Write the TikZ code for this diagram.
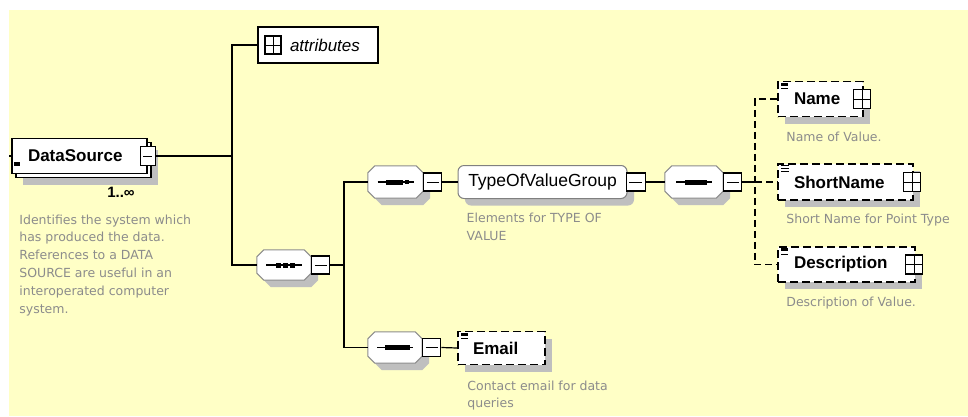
\documentclass[tikz,border=0pt]{standalone}
\usepackage{fontspec}
\setmainfont{Liberation Sans}
\newfontfamily\notefont{DejaVu Sans}
\usetikzlibrary{positioning,shadows}
\definecolor{paper}{RGB}{255,255,198}
\definecolor{notegray}{RGB}{140,140,140}
\tikzset{
  wire/.style={line width=1.2pt},
  optwire/.style={wire, dash pattern=on 7pt off 4pt},
  shade/.style={drop shadow={shadow xshift=7pt, shadow yshift=-7pt,
                fill=black!25, opacity=1}},
  box/.style={draw, line width=1.6pt, fill=white, minimum height=35pt,
              inner ysep=0pt, inner xsep=16pt, align=left,
              font=\fontsize{17}{20}\selectfont\bfseries},
  elem/.style={box, shade},
  optelem/.style={elem, dash pattern=on 8pt off 4pt},
  group/.style={draw=black!50, line width=1pt, rounded corners=6pt, fill=white,
                shade, minimum width=169pt, minimum height=33pt,
                font=\fontsize{17.5}{20}\selectfont},
  compositor/.style={minimum width=55pt, minimum height=31pt, inner sep=0pt},
  octa/.style={draw=black!45, line width=1pt, fill=white, shade},
  expander/.style={draw, line width=1.2pt, fill=white, minimum width=18pt,
                   minimum height=18pt, inner sep=0pt},
  minus/.style={expander, path picture={
      \draw[line width=1pt] ([xshift=3pt]path picture bounding box.west)
        -- ([xshift=-3pt]path picture bounding box.east);}},
  plus/.style={expander, minimum width=17pt, minimum height=19pt, path picture={
      \draw[line width=1pt] (path picture bounding box.west)
        -- (path picture bounding box.east);
      \draw[line width=1pt] (path picture bounding box.north)
        -- (path picture bounding box.south);}},
  note/.style={font=\notefont\fontsize{12.5}{17.8}\selectfont, text=notegray,
               align=left, inner sep=0pt}
}
\newcommand{\octagon}[1]{%
  \path[octa] ([xshift=7pt]#1.north west) -- ([xshift=-7pt]#1.north east)
    -- ([yshift=-7pt]#1.north east) -- ([yshift=7pt]#1.south east)
    -- ([xshift=-7pt]#1.south east) -- ([xshift=7pt]#1.south west)
    -- ([yshift=7pt]#1.south west) -- ([yshift=-7pt]#1.north west) -- cycle;}
\newcommand{\fixedmark}[1]{%
  \fill ([shift={(4pt,-2pt)}]#1.north west) rectangle ++(7pt,-3pt);
  \draw[line width=0.6pt] ([shift={(4pt,-8pt)}]#1.north west) -- ++(7pt,0pt);}
\newcommand{\textmark}[1]{%
  \foreach \dy in {2,5,8}
    \draw[line width=0.6pt] ([shift={(4pt,-\dy pt)}]#1.north west) -- ++(8pt,0pt);}

\begin{document}
\begin{tikzpicture}[x=1pt, y=-1pt]
  \useasboundingbox (0,0) rectangle (968,416);
  \fill[white] (0,0) rectangle (968,416);
  \fill[paper] (9,10) rectangle (968,416);

  % root element, repeated
  \node[elem, minimum width=135pt] (dsback) at (83.5,160) {};
  \node[box, minimum width=135pt, text width=103pt] (ds) at (79.5,156) {DataSource};
  \node[minus, minimum width=15pt, minimum height=19pt] (dsx) at (ds.east) {};
  \fill ([shift={(3pt,-6pt)}]ds.west) rectangle ++(6pt,-4pt);
  \coordinate (dsin) at (9,156);
  \node[font=\fontsize{15}{17}\selectfont\bfseries] (dsocc) at (121,192) {1..∞};
  \node[note, below right=40pt and 8pt of ds.south west] (dsnote)
    {Identifies the system which\\has produced the data.\\References to a DATA\\SOURCE are useful in an\\interoperated computer\\system.};

  % attributes
  \node[box, minimum width=120pt, minimum height=36pt, inner xsep=8pt,
        text width=104pt, font=\fontsize{17}{20}\selectfont\itshape] (attr)
    at (318,45) {\hspace*{24pt}attributes};
  \node[plus, minimum width=16pt, minimum height=18pt] (attrx) at (273,45) {};

  % outer sequence
  \node[compositor, minimum width=54pt, minimum height=30pt] (seq) at (284,265) {};
  \octagon{seq}
  \node[minus, anchor=west] (seqx) at (seq.east) {};
  \coordinate (trA) at (232,156);
  \coordinate (trB) at (344,265);

  % type of value branch
  \node[compositor, minimum height=32pt] (seqA) at (395.5,182) {};
  \octagon{seqA}
  \node[minus, anchor=west] (seqAx) at (seqA.east) {};
  \node[group] (tovg) at (542.5,182) {TypeOfValueGroup};
  \node[minus, anchor=west, minimum width=19pt] (tovgx) at ([xshift=-2pt]tovg.east) {};
  \node[note, below right=14pt and 9pt of tovg.south west] (tovgnote)
    {Elements for TYPE OF\\VALUE};
  \node[compositor, minimum width=58pt, minimum height=32pt] (seqB) at (694,182) {};
  \octagon{seqB}
  \node[minus, anchor=west] (seqBx) at (seqB.east) {};
  \coordinate (trC) at (755,182);

  % optional children
  \node[optelem, minimum width=85pt, text width=53pt] (name) at (820.5,99) {Name};
  \node[plus] (namex) at ([xshift=-1.5pt]name.east) {};
  \node[note, below right=14pt and 9pt of name.south west] (namenote) {Name of Value.};
  \node[optelem, minimum width=135pt, minimum height=36pt, text width=103pt] (short)
    at (845.5,182) {ShortName};
  \node[plus] (shortx) at ([xshift=-1.5pt]short.east) {};
  \node[note, below right=13pt and 9pt of short.south west] (shortnote)
    {Short Name for Point Type};
  \node[optelem, minimum width=137pt, text width=105pt] (descr) at (846.5,264.5)
    {Description};
  \node[plus] (descrx) at ([xshift=-1.5pt]descr.east) {};
  \node[note, below right=14pt and 9pt of descr.south west] (descrnote)
    {Description of Value.};

  % email branch
  \node[compositor, minimum width=54pt] (seqE) at (395,347.5) {};
  \octagon{seqE}
  \node[minus, anchor=west] (seqEx) at (seqE.east) {};
  \node[optelem, minimum width=87pt, minimum height=33pt, inner xsep=15pt,
        text width=57pt] (email) at (501.5,348) {Email};
  \node[note, below right=15pt and 10pt of email.south west] (emailnote)
    {Contact email for data\\queries};

  \fixedmark{name}
  \textmark{short}
  \fixedmark{descr}
  \fixedmark{email}

  % compositor icons
  \foreach \c in {seq,seqA,seqB,seqE}
    \draw[wire] ([xshift=-18pt]\c.center) -- ([xshift=18pt]\c.center);
  \foreach \dx in {-8,-1,6}
    \fill ([shift={(\dx pt,-2.5pt)}]seq.center) rectangle ++(5pt,5pt);
  \fill ([shift={(-10pt,-2.5pt)}]seqA.center) rectangle ++(17pt,5pt);
  \fill ([shift={(9pt,-2pt)}]seqA.center) rectangle ++(4pt,4pt);
  \fill ([shift={(-9pt,-2.5pt)}]seqB.center) rectangle ++(22pt,5pt);
  \fill ([shift={(-10pt,-2.5pt)}]seqE.center) rectangle ++(25pt,5pt);

  % connectors
  \draw[wire] (dsin) -- (ds.west);
  \draw[wire] (dsx.east) -- (trA);
  \draw[wire] (attr.west) -| (trA) |- (seq.west);
  \draw[wire] (seqx.east) -- (trB);
  \draw[wire] (seqA.west) -| (trB) |- (seqE.west);
  \draw[wire] (seqAx.east) -- (tovg.west);
  \draw[wire] (tovgx.east) -- (seqB.west);
  \draw[wire] (seqBx.east) -- (trC);
  \draw[optwire] (name.west) -| (trC) |- (descr.west);
  \draw[optwire] (trC) -- (short.west);
  \draw[wire] (seqEx.east) -- (email.west);
\end{tikzpicture}
\end{document}
